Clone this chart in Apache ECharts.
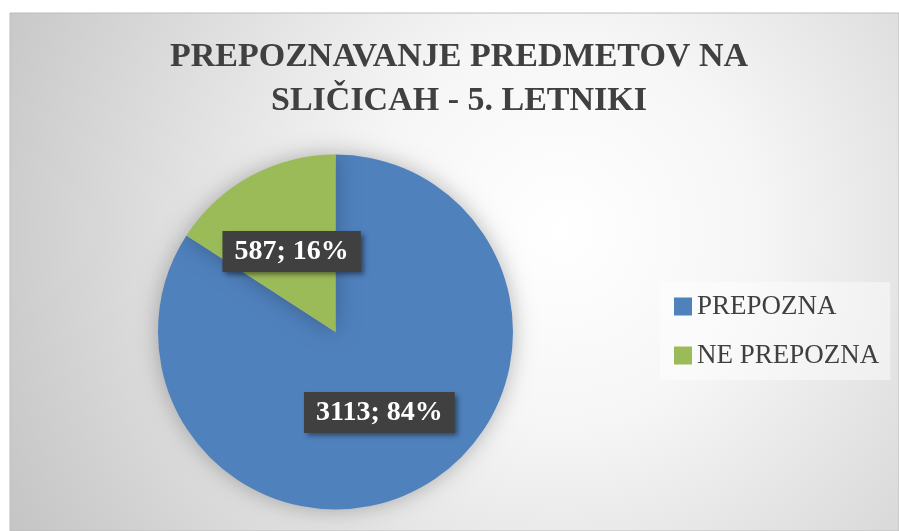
<!DOCTYPE html>
<html>
<head>
<meta charset="utf-8">
<script src="https://cdn.jsdelivr.net/npm/echarts@6/dist/echarts.min.js"></script>
<style>
html,body{margin:0;padding:0;background:#ffffff;}
#chart{width:899px;height:531px;}
</style>
</head>
<body>
<div id="chart"></div>
<script>
const titleText = 'PREPOZNAVANJE PREDMETOV NA\nSLIČICAH - 5. LETNIKI';
const categories = ['PREPOZNA', 'NE PREPOZNA'];
const values = [3113, 587];
const percents = [84, 16];
const colors = ['#4f81bd', '#9bbb59'];

const chart = echarts.init(document.getElementById('chart'), null, {renderer: 'canvas'});
const option = {
  animation: false,
  graphic: [{
    type: 'rect',
    z: -10,
    silent: true,
    shape: {x: 10, y: 13, width: 889, height: 518},
    style: {
      fill: {
        type: 'radial', x: 0.62, y: 0.42, r: 1.25,
        colorStops: [
          {offset: 0, color: '#ffffff'},
          {offset: 0.3, color: '#f6f6f6'},
          {offset: 1, color: '#c2c2c2'}
        ]
      },
      stroke: '#bdbdbd', lineWidth: 1
    }
  }],
  title: {
    text: titleText,
    left: 459,
    top: 35,
    padding: 0,
    textAlign: 'center',
    textStyle: {
      fontFamily: "'Liberation Serif', serif",
      fontWeight: 'bold',
      fontSize: 34,
      lineHeight: 44,
      color: '#404040'
    }
  },
  legend: {
    orient: 'vertical',
    left: 660,
    top: 282,
    padding: [11, 11, 11, 14],
    backgroundColor: 'rgba(255,255,255,0.45)',
    itemWidth: 18,
    itemHeight: 18,
    itemGap: 22,
    icon: 'rect',
    textStyle: {
      fontFamily: "'Liberation Serif', serif",
      fontSize: 27,
      color: '#404040'
    },
    data: categories
  },
  series: [{
    type: 'pie',
    center: [335.5, 332],
    radius: 177.5,
    startAngle: 90,
    clockwise: true,
    avoidLabelOverlap: false,
    itemStyle: {
      shadowBlur: 22,
      shadowColor: 'rgba(0,0,0,0.28)'
    },
    label: {
      show: true,
      position: 'inside',
      formatter: function (p) { return values[p.dataIndex] + '; ' + percents[p.dataIndex] + '%'; },
      fontFamily: "'Liberation Serif', serif",
      fontWeight: 'bold',
      fontSize: 28,
      color: '#ffffff',
      backgroundColor: '#404040',
      padding: [7, 12, 6, 12],
      shadowColor: 'rgba(0,0,0,0.45)',
      shadowBlur: 5,
      shadowOffsetX: 3,
      shadowOffsetY: 3
    },
    labelLine: {show: false},
    data: categories.map(function (c, i) {
      return {name: c, value: values[i], itemStyle: {color: colors[i]}};
    })
  }]
};
chart.setOption(option);
</script>
</body>
</html>
